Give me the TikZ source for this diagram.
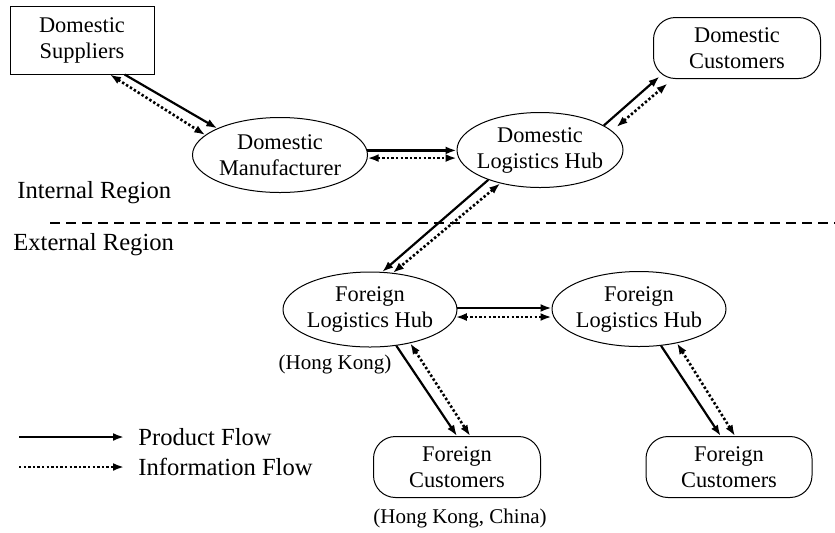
\documentclass[tikz,border=0pt]{standalone}
\usepackage{fontspec}
\setmainfont{Liberation Serif}
\usetikzlibrary{shapes.geometric,arrows.meta}

\begin{document}
\begin{tikzpicture}[x=0.5pt,y=-0.5pt,
    hub/.style={ellipse, draw, line width=0.5pt, inner xsep=-3pt, inner ysep=0pt,
        minimum width=87pt, minimum height=37.5pt, align=center, font=\fontsize{11.2}{13}\selectfont},
    custbox/.style={rectangle, rounded corners=11pt, draw, line width=0.5pt,
        minimum width=83.5pt, minimum height=30.5pt, align=center, font=\fontsize{11.2}{13}\selectfont},
    supbox/.style={rectangle, draw, line width=0.5pt, minimum width=72pt, minimum height=34pt,
        align=center, font=\fontsize{11.2}{13}\selectfont},
    prod/.style={-{Latex[length=5.5pt,width=4pt]}, line width=1.1pt},
    info/.style={{Latex[length=5.5pt,width=4pt]}-{Latex[length=5.5pt,width=4pt]}, line width=1.3pt, dash pattern=on 1.2pt off 1.1pt},
    legdot/.style={-{Latex[length=5.5pt,width=4pt]}, line width=1.3pt, dash pattern=on 1.2pt off 1.1pt},
    region/.style={anchor=west, inner sep=0pt, font=\fontsize{12.3}{14}\selectfont},
    note/.style={inner sep=0pt, font=\fontsize{10.5}{12}\selectfont},
    divider/.style={line width=1pt, dash pattern=on 5pt off 3pt}]
    \useasboundingbox (0,0) rectangle (835,532);

    % === Internal region ===
    \node[supbox] (sup) at (82,40) {Domestic\\Suppliers};
    \node[hub, minimum width=87.5pt] (man) at (280,155) {Domestic\\Manufacturer};
    \node[hub, minimum width=83pt] (dhub) at (540,150) {Domestic\\Logistics Hub};
    \node[custbox] (dcus) at (737,48) {Domestic\\Customers};
    \node[region] (inreg) at (17,193) {Internal Region};

    % Divider
    \coordinate (divl) at (50,223);
    \coordinate (divr) at (835,223);
    \draw[divider] (divl) -- (divr);

    % === External region ===
    \node[region] (exreg) at (13,245) {External Region};
    \node[hub] (fhk) at (370,309.5) {Foreign\\Logistics Hub};
    \node[note] (hklab) at (335,364) {(Hong Kong)};
    \node[hub] (fhub) at (639,309) {Foreign\\Logistics Hub};
    \node[custbox] (fcus1) at (457,467) {Foreign\\Customers};
    \node[note] (hkclab) at (460,518) {(Hong Kong, China)};
    \node[custbox, minimum width=83pt] (fcus2) at (729,467) {Foreign\\Customers};

    % Flows
    \draw[prod] (sup.-39) -- (man.157);
    \draw[info] (sup.-51) -- (man.165);
    \draw[prod] (man.3) -- (man.3 -| dhub.west);
    \draw[info] (man.-2) -- (man.-2 -| dhub.west);
    \draw[prod] (dhub.21) -- ([xshift=3.25pt,yshift=1.25pt]dcus.south west);
    \draw[info] ([xshift=-3.5pt,yshift=11.5pt]dhub.east) -- ([xshift=7.25pt,yshift=-2.25pt]dcus.south west);
    \draw[prod] (dhub.-150) -- (fhk.72);
    \draw[info] (dhub.-140) -- (fhk.58);
    \draw[prod] (fhk.1) -- (fhk.1 -| fhub.west);
    \draw[info] (fhk.-5) -- (fhk.-5 -| fhub.west);
    \draw[prod] (fhk.-54) -- (fcus1.north);
    \draw[info] (fhk.-40) -- (fcus1.67);
    \draw[prod] (fhub.-59) -- (fcus2.105);
    \draw[info] (fhub.-42) -- (fcus2.79);

    % Legend
    \coordinate (lp) at (19,437);
    \node[region, inner xsep=7pt] (lprod) at (124,437) {Product Flow};
    \draw[prod] (lp) -- (lprod.west);
    \coordinate (li) at (19,467);
    \node[region, inner xsep=7pt] (linfo) at (124,467) {Information Flow};
    \draw[legdot] (li) -- (linfo.west);
\end{tikzpicture}
\end{document}
